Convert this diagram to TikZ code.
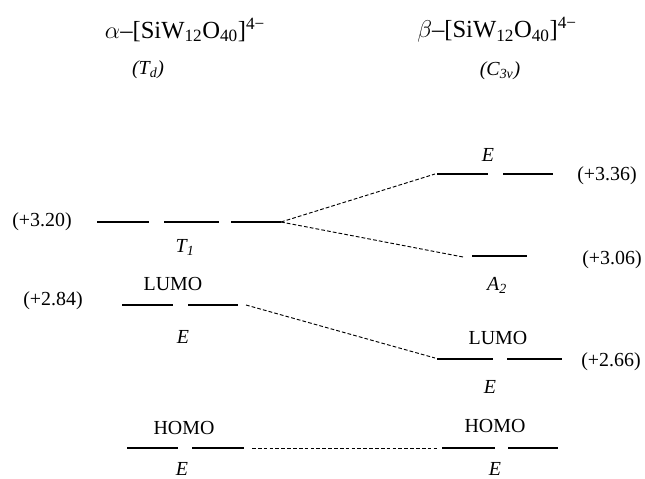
\documentclass[tikz,border=0pt]{standalone}
\usepackage{fontspec}
\setmainfont{Liberation Serif}
\usetikzlibrary{positioning}
\begin{document}
\begin{tikzpicture}[x=0.03cm, y=-0.03cm, every node/.style={inner sep=1pt},
  level/.style={line width=1.8pt},
  corr/.style={line width=0.8pt, dash pattern=on 3.2pt off 1.8pt},
  title/.style={font=\fontsize{21}{25}\selectfont},
  group/.style={font=\itshape\fontsize{17}{20}\selectfont},
  energy/.style={font=\fontsize{17}{20}\selectfont},
  sym/.style={font=\itshape\fontsize{17}{20}\selectfont},
  orb/.style={font=\fontsize{17}{20}\selectfont}]
  \useasboundingbox (0,0) rectangle (645,479);

  % headings
  \node[title] (alpha) at (185,30) {$\alpha$–[SiW\textsubscript{12}O\textsubscript{40}]\textsuperscript{4−}};
  \node[title] (beta) at (497,30) {$\beta$–[SiW\textsubscript{12}O\textsubscript{40}]\textsuperscript{4−}};
  \node[group] (Td) at (148,70) {(\textit{T}\textsubscript{\textit{d}})};
  \node[group] (C3v) at (500,71) {(\textit{C}\textsubscript{\textit{3v}})};

  % alpha levels
  \draw[level] (97,222) -- (149,222);
  \draw[level] (164,222) -- (219,222);
  \draw[level] (231,222) -- (281,222) coordinate (t1);
  \node[sym] (t1lab) at (185,247) {T\textsubscript{1}};
  \node[energy] (e320) at (42,222) {(+3.20)};

  \draw[level] (122,305) -- (173,305);
  \draw[level] (188,305) -- (238,305);
  \coordinate (le) at (246,305);
  \node[orb] (lumoa) at (173,284) {LUMO};
  \node[sym] (lea) at (183,337) {E};
  \node[energy] (e284) at (53,301) {(+2.84)};

  \draw[level] (127,448) -- (178,448);
  \draw[level] (192,448) -- (244,448);
  \coordinate (he) at (252,448);
  \node[orb] (homoa) at (184,428) {HOMO};
  \node[sym] (hea) at (182,469) {E};

  % beta levels
  \draw[level] (437,174) -- (488,174);
  \draw[level] (503,174) -- (553,174);
  \coordinate (be) at (435,174);
  \node[sym] (beb) at (488,155) {E};
  \node[energy] (e336) at (607,176) {(+3.36)};

  \draw[level] (472,256) -- (527,256);
  \coordinate (ba) at (463,257);
  \node[sym] (a2) at (497,285) {A\textsubscript{2}};
  \node[energy] (e306) at (612,260) {(+3.06)};

  \draw[level] (437,359) -- (493,359);
  \draw[level] (507,359) -- (562,359);
  \coordinate (bl) at (435,358);
  \node[orb] (lumob) at (498,338) {LUMO};
  \node[sym] (leb) at (490,387) {E};
  \node[energy] (e266) at (611,362) {(+2.66)};

  \draw[level] (442,448) -- (495,448);
  \draw[level] (508,448) -- (558,448);
  \coordinate (bh) at (437,448);
  \node[orb] (homob) at (495,426) {HOMO};
  \node[sym] (heb) at (495,469) {E};

  % correlation lines
  \draw[corr] (t1) -- (be);
  \draw[corr] (t1) -- (ba);
  \draw[corr] (le) -- (bl);
  \draw[corr] (he) -- (bh);
\end{tikzpicture}
\end{document}
